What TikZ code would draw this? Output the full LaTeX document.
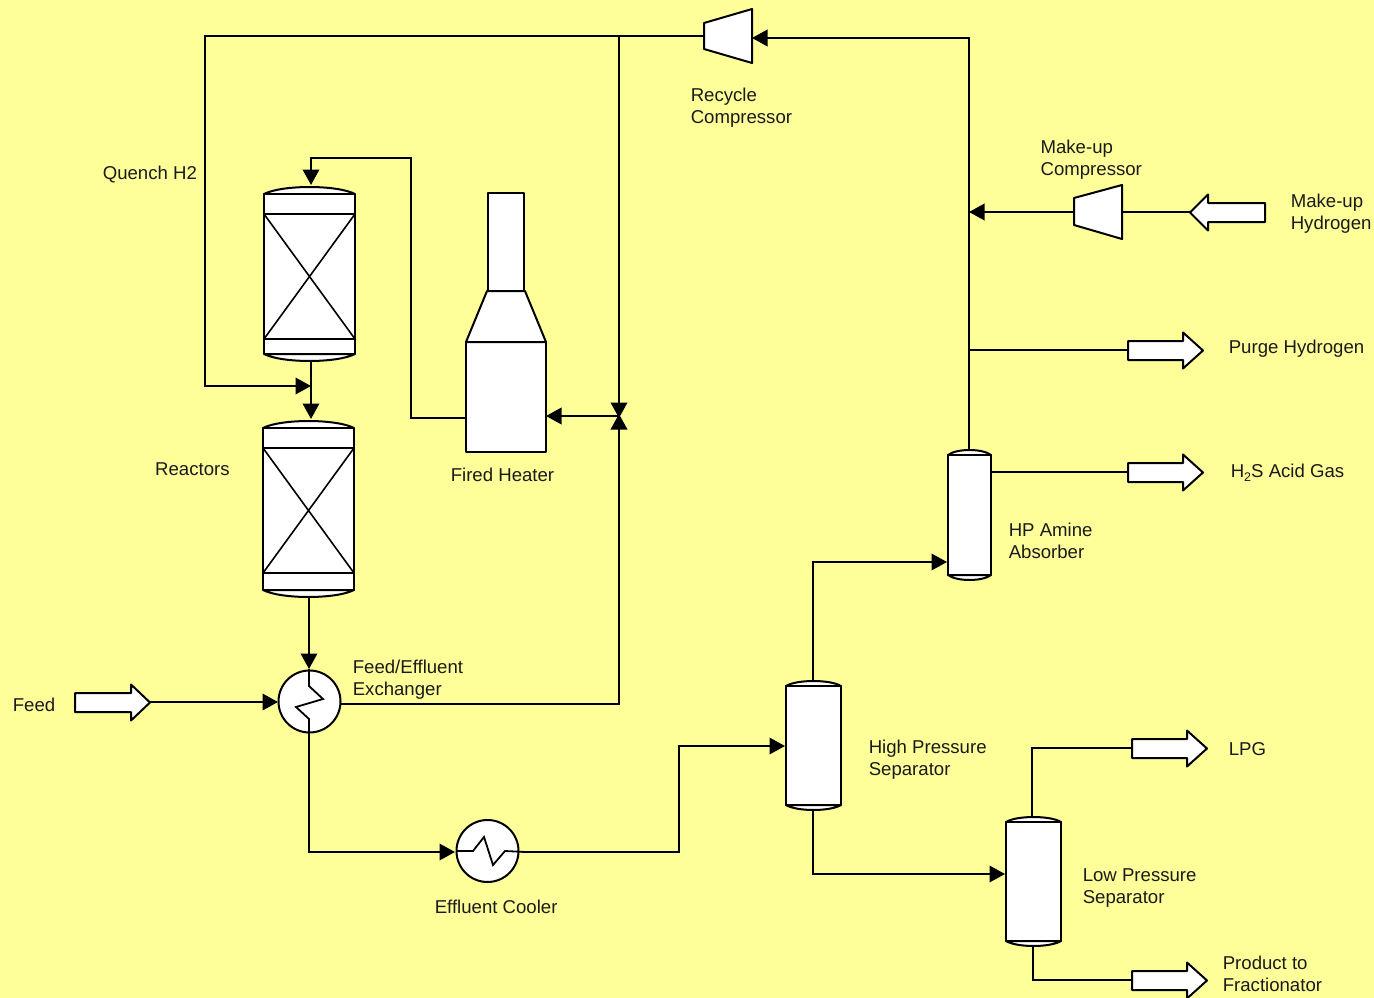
\documentclass[tikz,border=0pt]{standalone}
\usepackage{fontspec}
\setmainfont{Liberation Sans}
\usetikzlibrary{arrows.meta}
\definecolor{bgy}{HTML}{FFFF99}
\definecolor{txt}{HTML}{1A1A1A}
\tikzset{
  x=1pt,y=-1pt,
  equip/.style={draw=black,fill=white,line width=2pt,line join=round},
  pipe/.style={draw=black,line width=2pt,line join=miter},
  flow/.style={pipe,-{Triangle[length=15.5pt,width=16.5pt]}},
  meet/.style={flow,shorten >=-2pt},
  thin pipe/.style={draw=black,line width=1.6pt},
  lab/.style={anchor=north west,inner sep=0pt,align=left,text=txt,font=\fontsize{18.6}{22}\selectfont},
  box/.style={equip,inner sep=0pt,outer sep=0pt,rectangle},
}
% vessel: name, x1, x2, top, bottom, head height
\newcommand{\vesselx}[6]{%
  \draw[equip] (#2,#4) .. controls ({#2+0.2*(#3-#2)},{#4-1.33*#6}) and ({#3-0.2*(#3-#2)},{#4-1.33*#6}) .. (#3,#4) -- cycle;
  \draw[equip] (#2,#5) .. controls ({#2+0.2*(#3-#2)},{#5+1.33*#6}) and ({#3-0.2*(#3-#2)},{#5+1.33*#6}) .. (#3,#5) -- cycle;
  \node[box,minimum width={#3-#2},minimum height={#5-#4}] (#1) at ({(#2+#3)/2},{(#4+#5)/2}) {};
}
% block arrow pointing right: name, body start, head back, tip, y
\newcommand{\rarrowx}[5]{%
  \draw[equip] (#2,#5-9.5) -- (#3,#5-9.5) -- (#3,#5-18) -- (#4,#5) -- (#3,#5+18) -- (#3,#5+9.5) -- (#2,#5+9.5) -- cycle;
  \coordinate (#1 in) at (#2,#5-0.5);
  \coordinate (#1 tip) at (#4,#5-0.5);
}
\begin{document}
\begin{tikzpicture}
\fill[bgy] (0,0) rectangle (1374,998);
\useasboundingbox (0,0) rectangle (1374,998);

% --- equipment ---
\vesselx{rone}{264}{355}{194}{354}{7}
\draw[pipe] (264,214) -- (355,214) (264,339) -- (355,339);
\draw[thin pipe] (264,214) -- (355,339) (355,214) -- (264,339);
\vesselx{rtwo}{263}{354}{428}{590}{7}
\draw[pipe] (263,448) -- (354,448) (263,573) -- (354,573);
\draw[thin pipe] (263,448) -- (354,573) (354,448) -- (263,573);
\vesselx{absorber}{948}{991}{455}{575}{5}
\vesselx{hpsep}{786}{841}{686}{805}{5}
\vesselx{lpsep}{1006}{1061}{822}{941}{5}

\node[box,minimum width=80,minimum height=110] (firebox) at (506,397) {};
\draw[equip] (487,291) -- (525,291) -- (546,342) -- (466,342) -- cycle;
\node[box,minimum width=36,minimum height=98] (stack) at (506,242) {};

\draw[equip] (704,23) -- (752,9) -- (752,63) -- (704,49) -- cycle;
\draw[equip] (1074,198) -- (1122,185) -- (1122,239) -- (1074,225) -- cycle;

\node[box,circle,minimum size=62] (exch) at (309.5,701.5) {};
\node[box,circle,minimum size=62] (cooler) at (487.5,851) {};

\rarrowx{feed}{75}{131}{150}{702.5}
\rarrowx{purge}{1128}{1183}{1203}{350.5}
\rarrowx{acid}{1128}{1183}{1203}{472.5}
\rarrowx{lpg}{1132}{1187}{1207}{748.5}
\rarrowx{prod}{1132}{1187}{1207}{980.5}
\draw[equip] (1265,203) -- (1208,203) -- (1208,194.5) -- (1190,212.5) -- (1208,230.5) -- (1208,222) -- (1265,222) -- cycle;

% --- connection points ---
\coordinate (rcin) at (704,36);
\coordinate (rcout) at (752,38);
\coordinate (mcin) at (1122,212);
\coordinate (mcout) at (1074,212);
\coordinate (mhtip) at (1190,212);
\coordinate (jq) at (619,36);
\coordinate (jh) at (619,416);
\coordinate (hin) at (546,416);
\coordinate (hout) at (466,418);
\coordinate (ronetop) at (311,185);
\coordinate (ronebot) at (311,362);
\coordinate (rtwotop) at (311,419);
\coordinate (rtwobot) at (309,597);
\coordinate (jq2) at (311,386);
\coordinate (extop) at (309,669);
\coordinate (exbot) at (309,738);
\coordinate (exright) at (341,704);
\coordinate (exleft) at (278,702);
\coordinate (cin) at (455,852);
\coordinate (cout) at (525,852);
\coordinate (hpin) at (785,746);
\coordinate (hptop) at (813,681);
\coordinate (hpbot) at (813,810);
\coordinate (abin) at (947,562);
\coordinate (abtop) at (969,450);
\coordinate (abright) at (991,472);
\coordinate (lpin) at (1005,874);
\coordinate (lptop) at (1032,817);
\coordinate (lpbot) at (1033,946);
\coordinate (jm) at (969,212);
\coordinate (jp) at (969,350);

% --- exchanger internals ---
\draw[pipe,line width=1.8pt] (extop) -- (309,686) -- (323,699) -- (296,707) -- (309,719) -- (exbot);
\draw[pipe,line width=1.8pt] (456,851) -- (473,851) -- (484,837) -- (493,865) -- (505,851) -- (cout);

% --- connectors ---
\draw[flow] (rcin) -| (205,386) -- (jq2);
\draw[meet] (jq) -- (jh);
\draw[meet] (exright) -| (jh);
\draw[flow] (jh) -- (hin);
\draw[flow] (hout) -| (411,158) -| (ronetop);
\draw[flow] (ronebot) -- (rtwotop);
\draw[flow] (rtwobot) -- (extop);
\draw[flow] (feed tip) -- (exleft);
\draw[flow] (exbot) |- (cin);
\draw[flow] (cout) -| (679,746) -- (hpin);
\draw[flow] (hptop) |- (abin);
\draw[flow] (hpbot) |- (lpin);
\draw[flow] (abtop) |- (rcout);
\draw[flow] (mcout) -- (jm);
\draw[pipe] (mcin) -- (mhtip);
\draw[pipe] (jp) -- (purge in);
\draw[pipe] (abright) -- (acid in);
\draw[pipe] (lptop) |- (lpg in);
\draw[pipe] (lpbot) |- (prod in);

% --- labels ---
\node[lab] (l1) at (690.6,86) {\strut Recycle\\Compressor};
\node[lab] (l2) at (1040.4,138) {\strut Make-up\\Compressor};
\node[lab] (l3) at (102.6,164) {\strut Quench H2};
\node[lab] (l4) at (1290.6,192) {\strut Make-up\\Hydrogen};
\node[lab] (l5) at (1228.6,338) {\strut Purge Hydrogen};
\node[lab] (l6) at (155,460) {\strut Reactors};
\node[lab] (l7) at (450.6,466) {\strut Fired Heater};
\node[lab] (l8) at (1230.6,462) {\strut H{\fontsize{12.5}{12.5}\selectfont\raisebox{-4pt}{2}}S Acid Gas};
\node[lab] (l9) at (1008.6,521) {\strut HP Amine\\Absorber};
\node[lab] (l10) at (352.6,658) {\strut Feed/Effluent\\Exchanger};
\node[lab] (l11) at (12.6,696) {\strut Feed};
\node[lab] (l12) at (868.6,738) {\strut High Pressure\\Separator};
\node[lab] (l13) at (1228.6,740) {\strut LPG};
\node[lab] (l14) at (1082.6,866) {\strut Low Pressure\\Separator};
\node[lab] (l15) at (434.6,898) {\strut Effluent Cooler};
\node[lab] (l16) at (1222.6,954) {\strut Product to\\Fractionator};
\end{tikzpicture}
\end{document}
